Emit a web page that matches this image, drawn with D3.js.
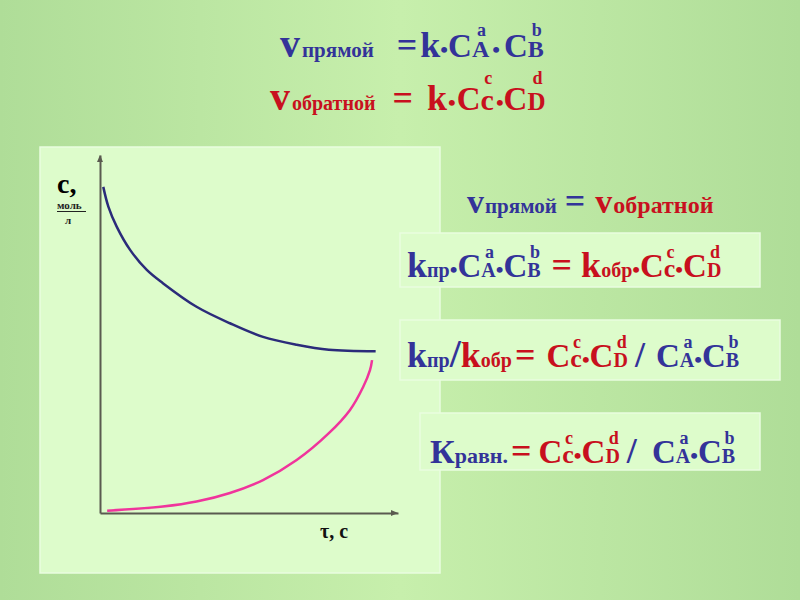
<!DOCTYPE html>
<html><head><meta charset="utf-8">
<script src="https://cdn.jsdelivr.net/npm/d3@7"></script>
<style>html,body{margin:0;padding:0;overflow:hidden;}svg{display:block;}</style>
</head><body>
<script>
// ---- data ----
const blueCurveT = [1.1, 2.8, 5.6, 10.1, 15.7, 21.1, 32.4, 43.6, 54.7, 66.0, 76.8, 92.5];
const blueCurveC = [91.1, 85.6, 80.0, 73.5, 67.9, 64.2, 57.6, 53.0, 49.2, 47.0, 45.6, 45.2];
const pinkCurveT = [2.4, 21.1, 32.4, 43.6, 54.7, 66.0, 76.8, 83.9, 88.3, 90.6, 91.3];
const pinkCurveC = [0.65, 1.8, 3.2, 5.6, 9.2, 14.8, 22.3, 28.8, 35.2, 39.9, 42.7];
const xDomain = [0, 100];
const yDomain = [0, 100];
const yLabel = ["с,", "моль", "л"];
const xLabel = "τ, с";

const BLUE = "#333399", RED = "#c8101e";
const FONT = "Liberation Serif";

const W = 800, H = 600;
const svg = d3.select("body").append("svg").attr("width", W).attr("height", H);

const defs = svg.append("defs");
const bg = defs.append("linearGradient").attr("id", "bg").attr("x1", 0).attr("x2", 1).attr("y1", 0).attr("y2", 0);
bg.append("stop").attr("offset", 0).attr("stop-color", "#afdd98");
bg.append("stop").attr("offset", 0.5).attr("stop-color", "#c7efac");
bg.append("stop").attr("offset", 1).attr("stop-color", "#afdd98");
svg.append("rect").attr("width", W).attr("height", H).attr("fill", "url(#bg)");

const PANEL = "#ddfccb", PSTROKE = "#e9fde0";
svg.append("rect").attr("x", 40).attr("y", 147).attr("width", 400).attr("height", 426)
  .attr("fill", PANEL).attr("stroke", PSTROKE).attr("stroke-width", 1.5);
[[400,233,360,54],[400,320,380,60],[420,413,340,57]].forEach(b => {
  svg.append("rect").attr("x", b[0]).attr("y", b[1]).attr("width", b[2]).attr("height", b[3])
    .attr("fill", PANEL).attr("stroke", PSTROKE).attr("stroke-width", 1.5);
});

// ---- scales & axes ----
const x = d3.scaleLinear().domain(xDomain).range([100, 398]);
const y = d3.scaleLinear().domain(yDomain).range([513, 155]);
const AX = "#5a5a50";
svg.append("g").attr("transform", `translate(0,${y(0)})`)
  .call(d3.axisBottom(x).tickValues([]).tickSizeOuter(0));
svg.append("g").attr("transform", `translate(${x(0)},0)`)
  .call(d3.axisLeft(y).tickValues([]).tickSizeOuter(0));
svg.selectAll(".domain").attr("stroke", AX).attr("stroke-width", 2);
svg.append("path").attr("d", `M${x(0)-3},${y(100)+7}L${x(0)},${y(100)}L${x(0)+3},${y(100)+7}Z`).attr("fill", AX);
svg.append("path").attr("d", `M${x(100)-7},${y(0)-3}L${x(100)},${y(0)}L${x(100)-7},${y(0)+3}Z`).attr("fill", AX);

const line = d3.line().x(d => x(d[0])).y(d => y(d[1])).curve(d3.curveCatmullRom.alpha(0.5));
svg.append("path").attr("d", line(d3.zip(blueCurveT, blueCurveC)))
  .attr("fill", "none").attr("stroke", "#2b2b7a").attr("stroke-width", 2.5);
svg.append("path").attr("d", line(d3.zip(pinkCurveT, pinkCurveC)))
  .attr("fill", "none").attr("stroke", "#f0349c").attr("stroke-width", 2.5);

function txt(xp, yp, size, col, s) {
  return svg.append("text").attr("x", xp).attr("y", yp).attr("font-family", FONT)
    .attr("font-weight", "bold").attr("font-size", size).attr("fill", col).text(s);
}
// axis labels
txt(57, 193, 28, "#000", yLabel[0]);
txt(57, 209, 11, "#222", yLabel[1]);
svg.append("line").attr("x1", 57).attr("x2", 86).attr("y1", 211.5).attr("y2", 211.5).attr("stroke", "#222").attr("stroke-width", 1);
txt(65, 224, 11, "#222", yLabel[2]);
txt(320, 538, 20, "#111", xLabel);

// ---- formula layout ----
const SIZES = { v: 40, vs: 34, small: 21, sm: 20, sm22: 22, small2: 20, small3: 24, k: 36, op: 36, sl: 40,
  C: 33, dot: 22, sub: 20, sub1: 24, sub2: 25, subc: 26, subc2: 30, sup: 18, K: 34 };
function formula(x0, y0, supDy, tokens) {
  let cx = x0, subX = x0, subW = 0;
  tokens.forEach(tk => {
    const [s, role, col, gap] = tk;
    cx += gap || 0;
    const t = txt(0, 0, SIZES[role], col, s);
    const w = t.node().getComputedTextLength();
    if (role === "sup") {
      const sx = subX + (subW - w) / 2 + 1;
      t.attr("x", sx).attr("y", y0 + supDy);
      cx = Math.max(cx, sx + w);
    } else {
      t.attr("x", cx).attr("y", y0);
      if (role.startsWith("sub")) { subX = cx; subW = w; }
      cx += w;
    }
  });
}
const B = BLUE, R = RED;
formula(280, 57, -21, [["v","v",B],["прямой","small",B,2],["=","op",B,23],["k","k",B,3],["•","dot",B],["C","C",B],["A","sub1",B],["a","sup",B],["•","dot",B,3],["C","C",B,4],["B","sub1",B],["b","sup",B]]);
formula(270, 110, -26, [["v","v",R],["обратной","small2",R,2],["=","op",R,17],["k","k",R,14],["•","dot",R,1],["C","C",R,1],["c","subc2",R],["c","sup",R],["•","dot",R,2],["C","C",R],["D","sub2",R],["d","sup",R]]);
formula(467, 213, 0, [["v","vs",B],["прямой","small",B,1],["=","op",B,8],["v","vs",R,10],["обратной","small3",R,1]]);
formula(407, 277, -19, [["k","k",B],["пр","sm",B],["•","dot",B],["C","C",B],["A","sub",B],["a","sup",B],["•","dot",B],["C","C",B],["B","sub",B],["b","sup",B],["=","op",R,11],["k","k",R,9],["обр","sm",R],["•","dot",R],["C","C",R],["c","subc",R],["c","sup",R],["•","dot",R],["C","C",R],["D","sub",R],["d","sup",R]]);
formula(407, 367, -19, [["k","k",B],["пр","sm",B],["/","sl",B],["k","k",R],["обр","sm",R],["=","op",R,3],["C","C",R,11],["c","subc",R],["c","sup",R],["•","dot",R],["C","C",R],["D","sub",R],["d","sup",R],["/","op",B,7],["C","C",B,11],["A","sub",B],["a","sup",B],["•","dot",B],["C","C",B],["B","sub",B],["b","sup",B]]);
formula(430, 463, -19, [["К","K",B],["равн.","sm22",B],["=","op",R,3],["C","C",R,7],["c","subc",R],["c","sup",R],["•","dot",R],["C","C",R],["D","sub",R],["d","sup",R],["/","op",B,7],["C","C",B,15],["A","sub",B],["a","sup",B],["•","dot",B],["C","C",B],["B","sub",B],["b","sup",B]]);
</script>
</body></html>
